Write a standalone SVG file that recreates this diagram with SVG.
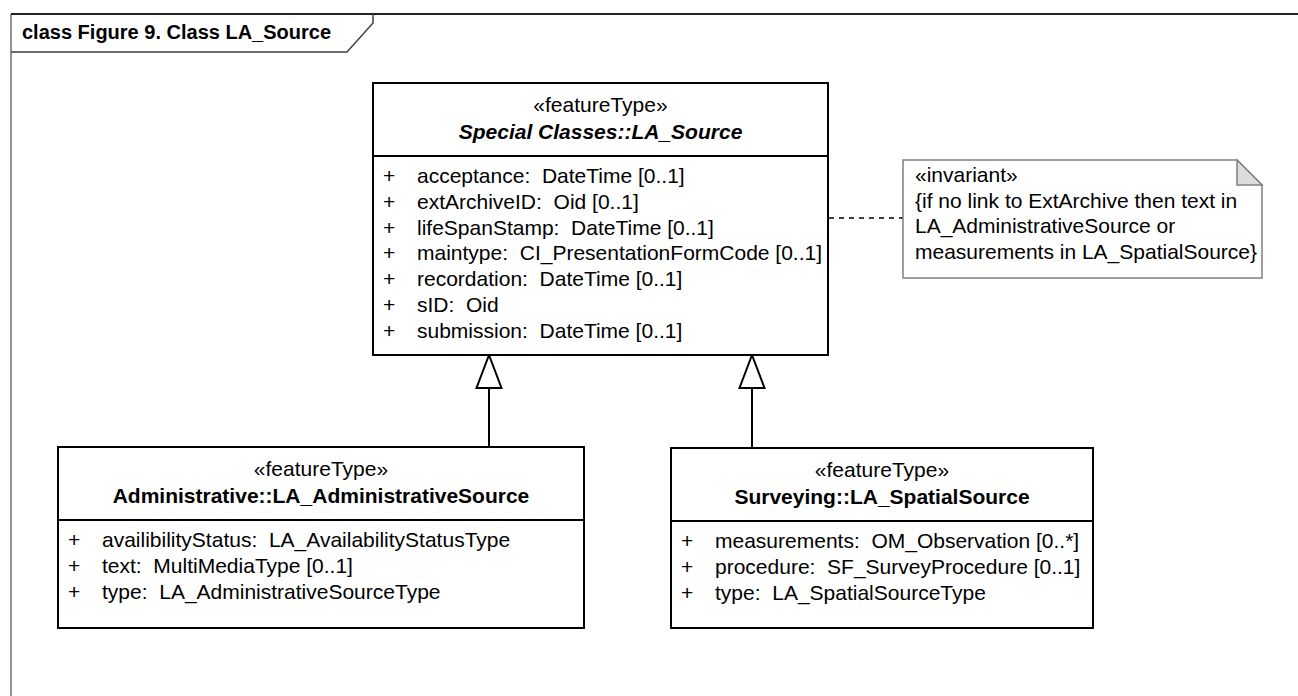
<svg xmlns="http://www.w3.org/2000/svg" width="1298" height="696" viewBox="0 0 1298 696" xml:space="preserve">
<style>
text{font-family:"Liberation Sans",Arial,sans-serif;font-size:21px;fill:#000;white-space:pre}
.c{text-anchor:middle}
.b{font-weight:bold}
.bi{font-weight:bold;font-style:italic}
.box{fill:#fff;stroke:#000;stroke-width:2}
.sep{stroke:#000;stroke-width:2}
.note{fill:#fff;stroke:#808080;stroke-width:1.5}
.fold{fill:#dcdcdc;stroke:#808080;stroke-width:1.5}
.edge{fill:none;stroke:#000;stroke-width:2}
.head{fill:#fff;stroke:#000;stroke-width:2}
.dash{fill:none;stroke:#000;stroke-width:1.5;stroke-dasharray:5,5}
</style>
<rect width="1298" height="696" fill="#fff"/>
<g id="frame">
<path d="M11,696 V14" fill="none" stroke="#707070" stroke-width="1.5"/>
<path d="M11,14 H1298" fill="none" stroke="#222" stroke-width="2"/>
<path d="M11,52 H347 L373,23 V14" fill="none" stroke="#404040" stroke-width="1.5"/>
<text x="22" y="39" class="b" style="font-size:20px">class Figure 9. Class LA_Source</text>
</g>
<g id="connectors">
<line class="dash" x1="829" y1="218" x2="903" y2="218"/>
<line class="edge" x1="489" y1="388" x2="489" y2="447"/>
<path class="head" d="M489,355 L501.5,388 L476.5,388 Z"/>
<line class="edge" x1="752" y1="388" x2="752" y2="448"/>
<path class="head" d="M752,355 L764.5,388 L739.5,388 Z"/>
</g>
<g id="LA_Source">
<rect class="box" x="373" y="83" width="455" height="272"/>
<line class="sep" x1="373" y1="156" x2="828" y2="156"/>
<text x="600.5" y="112" class="c">«featureType»</text>
<text x="600.5" y="139" class="c bi">Special Classes::LA_Source</text>
<text x="383" y="183">+</text><text x="417" y="183">acceptance:  DateTime [0..1]</text>
<text x="383" y="208.8">+</text><text x="417" y="208.8">extArchiveID:  Oid [0..1]</text>
<text x="383" y="234.6">+</text><text x="417" y="234.6">lifeSpanStamp:  DateTime [0..1]</text>
<text x="383" y="260.4">+</text><text x="417" y="260.4">maintype:  CI_PresentationFormCode [0..1]</text>
<text x="383" y="286.2">+</text><text x="417" y="286.2">recordation:  DateTime [0..1]</text>
<text x="383" y="312">+</text><text x="417" y="312">sID:  Oid</text>
<text x="383" y="337.8">+</text><text x="417" y="337.8">submission:  DateTime [0..1]</text>
</g>
<g id="invariant_note">
<path class="note" d="M903,160 H1237 L1262,185 V278 H903 Z"/>
<path class="fold" d="M1237,160 V185 H1262 Z"/>
<text x="915" y="182">«invariant»</text>
<text x="915" y="207.5">{if no link to ExtArchive then text in</text>
<text x="915" y="233">LA_AdministrativeSource or</text>
<text x="915" y="258.5">measurements in LA_SpatialSource}</text>
</g>
<g id="LA_AdministrativeSource">
<rect class="box" x="58" y="447" width="526" height="181"/>
<line class="sep" x1="58" y1="520" x2="584" y2="520"/>
<text x="321" y="476" class="c">«featureType»</text>
<text x="321" y="503" class="c b">Administrative::LA_AdministrativeSource</text>
<text x="68" y="547">+</text><text x="102" y="547">availibilityStatus:  LA_AvailabilityStatusType</text>
<text x="68" y="572.8">+</text><text x="102" y="572.8">text:  MultiMediaType [0..1]</text>
<text x="68" y="598.6">+</text><text x="102" y="598.6">type:  LA_AdministrativeSourceType</text>
</g>
<g id="LA_SpatialSource">
<rect class="box" x="671" y="448" width="422" height="180"/>
<line class="sep" x1="671" y1="521" x2="1093" y2="521"/>
<text x="882" y="477" class="c">«featureType»</text>
<text x="882" y="504" class="c b">Surveying::LA_SpatialSource</text>
<text x="681" y="548">+</text><text x="715" y="548">measurements:  OM_Observation [0..*]</text>
<text x="681" y="573.8">+</text><text x="715" y="573.8">procedure:  SF_SurveyProcedure [0..1]</text>
<text x="681" y="599.6">+</text><text x="715" y="599.6">type:  LA_SpatialSourceType</text>
</g>
</svg>
